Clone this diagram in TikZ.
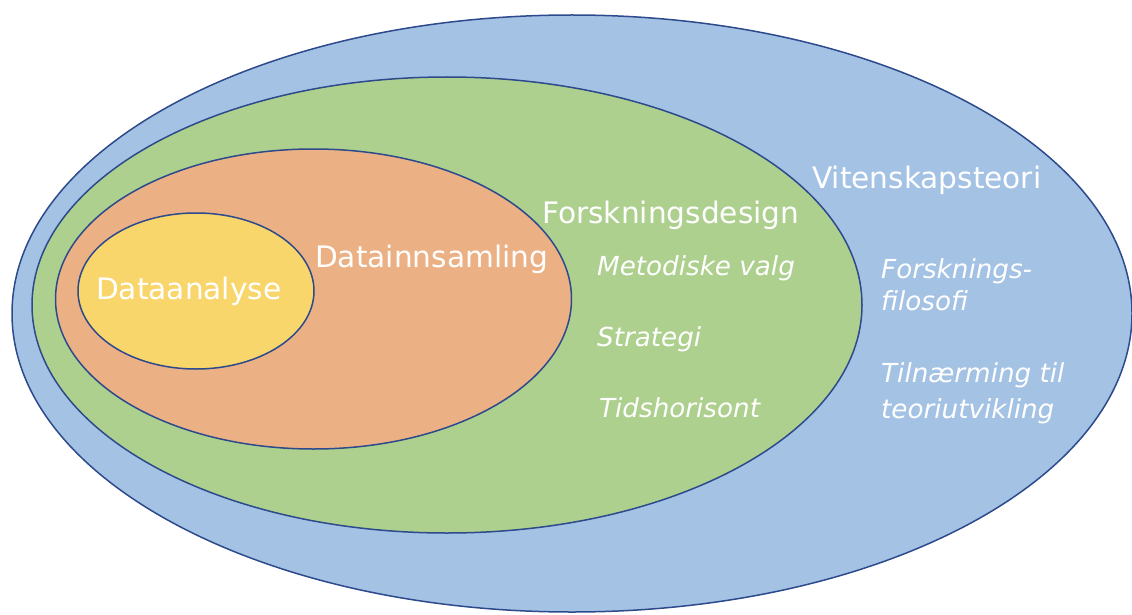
\documentclass[tikz,border=0pt]{standalone}
\usepackage{fontspec}
\setmainfont{DejaVu Sans}
\newfontfamily\labelfont{DejaVu Sans}
\newfontfamily\itemfont{DejaVu Sans Oblique}

\definecolor{rimblue}{RGB}{44,74,140}
\definecolor{fillblue}{RGB}{164,194,228}
\definecolor{fillgreen}{RGB}{174,208,142}
\definecolor{fillorange}{RGB}{235,177,132}
\definecolor{fillyellow}{RGB}{249,214,108}

\tikzset{
  ring/.style={draw=rimblue, line width=1.5pt},
  title/.style={text=white, inner sep=0pt, anchor=base west,
    font=\labelfont\fontsize{29.6}{34}\selectfont},
  item/.style={text=white, inner sep=0pt, anchor=base west,
    font=\itemfont\fontsize{26.2}{30}\selectfont},
}

\begin{document}
\begin{tikzpicture}[x=1pt, y=-1pt]
  \useasboundingbox (0,0) rectangle (1132,615);

  % nested scopes, outermost first
  \filldraw[ring, fill=fillblue]   (572,313.5) ellipse [x radius=560, y radius=298.5];
  \filldraw[ring, fill=fillgreen]  (447,305)   ellipse [x radius=415, y radius=228];
  \filldraw[ring, fill=fillorange] (313.5,299) ellipse [x radius=258, y radius=150];
  \filldraw[ring, fill=fillyellow] (196,291)   ellipse [x radius=118, y radius=78];

  % scope names
  \node[title] (analyse)  at (96,299)  {Dataanalyse};
  \node[title] (innsaml)  at (315,267) {Datainnsamling};
  \node[title] (design)   at (542,223) {Forskningsdesign};
  \node[title] (vitensk)  at (812,188) {Vitenskapsteori};

  % contents of the research design
  \node[item] (metode)    at (597,275) {Metodiske valg};
  \node[item] (strategi)  at (597,346) {Strategi};
  \node[item] (tid)       at (599,417) {Tidshorisont};

  % contents of the philosophy of science
  \node[item] (filo1)     at (881,278) {Forsknings-};
  \node[item] (filo2)     at (881,310) {filosofi};
  \node[item] (tilnaer1)  at (881,382) {Tilnærming til};
  \node[item] (tilnaer2)  at (881,418) {teoriutvikling};
\end{tikzpicture}
\end{document}
